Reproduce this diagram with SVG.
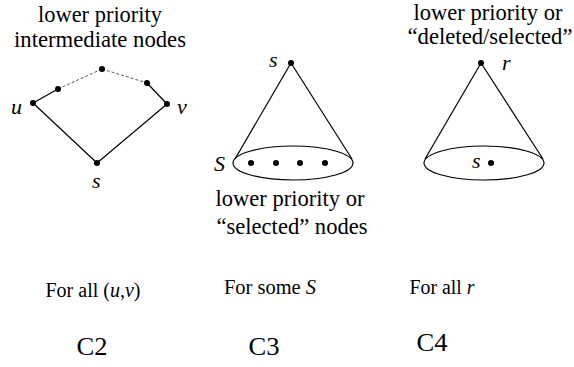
<svg xmlns="http://www.w3.org/2000/svg" width="574" height="367" viewBox="0 0 574 367">
<style>
.t{font-size:22.5px;text-anchor:middle}
.lab{font-size:22px;font-style:italic}
.cap{font-size:20px;text-anchor:middle}
.big{font-size:26px;text-anchor:middle}
.ln{stroke:#000;stroke-width:1.2;fill:none}
.ds{stroke:#444;stroke-width:0.9;stroke-dasharray:3,2;fill:none}
.dot{fill:#000}
</style>
<rect width="574" height="367" fill="#fff"/>
<g id="connectors">
<line class="ln" x1="33" y1="103" x2="58" y2="89"/>
<line class="ds" x1="58" y1="89" x2="102" y2="69"/>
<line class="ds" x1="102" y1="69" x2="147" y2="83"/>
<line class="ln" x1="147" y1="83" x2="167" y2="104"/>
<line class="ln" x1="33" y1="103" x2="97" y2="163"/>
<line class="ln" x1="167" y1="104" x2="97" y2="163"/>
<line class="ln" x1="291" y1="63" x2="235" y2="159"/>
<line class="ln" x1="291" y1="63" x2="352" y2="159"/>
<line class="ln" x1="481" y1="63" x2="425" y2="159"/>
<line class="ln" x1="481" y1="63" x2="543" y2="159"/>
</g>
<g id="c2">
<text font-family="Liberation Serif" class="t" x="100" y="22" textLength="124" lengthAdjust="spacingAndGlyphs">lower priority</text>
<text font-family="Liberation Serif" class="t" x="100" y="47" textLength="172" lengthAdjust="spacingAndGlyphs">intermediate nodes</text>
<circle class="dot" cx="33" cy="103" r="3"/>
<circle class="dot" cx="58" cy="89" r="3"/>
<circle class="dot" cx="102" cy="69" r="3"/>
<circle class="dot" cx="147" cy="83" r="3"/>
<circle class="dot" cx="167" cy="104" r="3"/>
<circle class="dot" cx="97" cy="163" r="3"/>
<text font-family="Liberation Serif" class="lab" x="11" y="114">u</text>
<text font-family="Liberation Serif" class="lab" x="177" y="114">v</text>
<text font-family="Liberation Serif" class="lab" x="92" y="188">s</text>
<text font-family="Liberation Serif" class="cap" x="93" y="297" textLength="95" lengthAdjust="spacingAndGlyphs">For all (<tspan font-style="italic">u</tspan>,<tspan font-style="italic">v</tspan>)</text>
<text font-family="Liberation Serif" class="big" x="92" y="355" textLength="31" lengthAdjust="spacingAndGlyphs">C2</text>
</g>
<g id="c3">
<circle class="dot" cx="291" cy="63" r="3"/>
<text font-family="Liberation Serif" class="lab" x="269" y="67">s</text>
<ellipse class="ln" cx="293" cy="163" rx="60" ry="17"/>
<circle class="dot" cx="251" cy="163" r="3"/>
<circle class="dot" cx="276" cy="163" r="3"/>
<circle class="dot" cx="300" cy="163" r="3"/>
<circle class="dot" cx="325" cy="163" r="3"/>
<text font-family="Liberation Serif" class="lab" x="214" y="171" font-size="24">S</text>
<text font-family="Liberation Serif" class="t" x="290" y="206" textLength="149" lengthAdjust="spacingAndGlyphs">lower priority or</text>
<text font-family="Liberation Serif" class="t" x="292" y="234" textLength="151" lengthAdjust="spacingAndGlyphs">“selected” nodes</text>
<text font-family="Liberation Serif" class="cap" x="270" y="294" textLength="92" lengthAdjust="spacingAndGlyphs">For some <tspan font-style="italic">S</tspan></text>
<text font-family="Liberation Serif" class="big" x="264" y="355" textLength="31" lengthAdjust="spacingAndGlyphs">C3</text>
</g>
<g id="c4">
<text font-family="Liberation Serif" class="t" x="488" y="20" textLength="149" lengthAdjust="spacingAndGlyphs">lower priority or</text>
<text font-family="Liberation Serif" class="t" x="490" y="44" textLength="165" lengthAdjust="spacingAndGlyphs">“deleted/selected”</text>
<circle class="dot" cx="481" cy="63" r="3"/>
<text font-family="Liberation Serif" class="lab" x="502" y="70">r</text>
<ellipse class="ln" cx="484" cy="163" rx="60" ry="17"/>
<text font-family="Liberation Serif" class="lab" x="472" y="168">s</text>
<circle class="dot" cx="491" cy="163" r="3"/>
<text font-family="Liberation Serif" class="cap" x="442" y="294" textLength="65" lengthAdjust="spacingAndGlyphs">For all <tspan font-style="italic">r</tspan></text>
<text font-family="Liberation Serif" class="big" x="432" y="351" textLength="31" lengthAdjust="spacingAndGlyphs">C4</text>
</g>
</svg>
